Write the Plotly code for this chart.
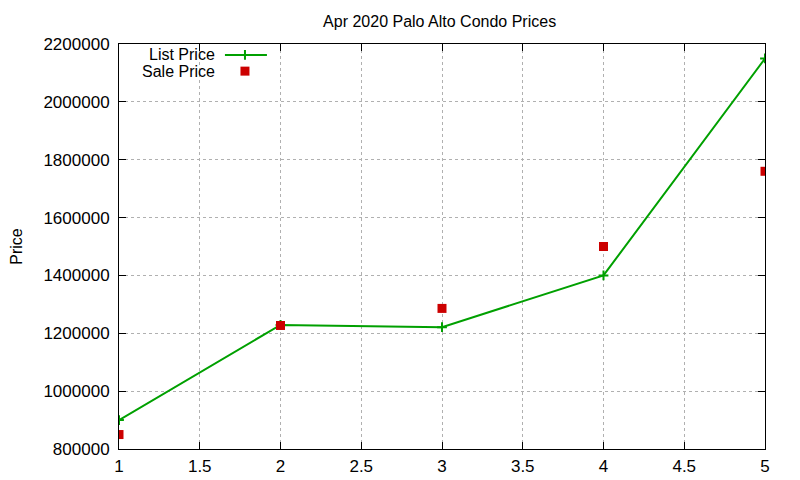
import plotly.graph_objects as go

# data
months = [1, 2, 3, 4, 5]
list_price = [900000, 1229000, 1221000, 1400000, 2150000]
sale_price = [850000, 1227000, 1286000, 1500000, 1760000]

x_ticks = [1, 1.5, 2, 2.5, 3, 3.5, 4, 4.5, 5]
y_ticks = [800000, 1000000, 1200000, 1400000, 1600000, 1800000, 2000000, 2200000]

green = "#00a000"
red = "#cc0000"
font = "Liberation Sans, Arial, sans-serif"

fig = go.Figure()

fig.add_trace(go.Scatter(
    x=months, y=list_price, mode="lines+markers", name="List Price",
    line=dict(color=green, width=2),
    marker=dict(symbol="cross-thin", size=7, line=dict(color=green, width=2)),
))
fig.add_trace(go.Scatter(
    x=months, y=sale_price, mode="markers", name="Sale Price",
    marker=dict(symbol="square", size=9, color=red),
))

# gnuplot-style key: text on the left, sample on the right
fig.add_trace(go.Scatter(
    x=[0.164, 0.195, 0.229], y=[0.973, 0.973, 0.973], mode="lines",
    line=dict(color=green, width=2), xaxis="x2", yaxis="y2", hoverinfo="skip",
))
fig.add_trace(go.Scatter(
    x=[0.195], y=[0.973], mode="markers", xaxis="x2", yaxis="y2",
    marker=dict(symbol="cross-thin", size=7, line=dict(color=green, width=2)),
    hoverinfo="skip",
))
fig.add_trace(go.Scatter(
    x=[0.195], y=[0.933], mode="markers", xaxis="x2", yaxis="y2",
    marker=dict(symbol="square", size=9, color=red), hoverinfo="skip",
))
for txt, yy in [("List Price", 0.973), ("Sale Price", 0.933)]:
    fig.add_annotation(
        x=0.152, y=yy, xref="x2", yref="y2", text=txt, showarrow=False,
        xanchor="right", yanchor="middle", font=dict(size=16, color="black"),
    )

axis_style = dict(
    showline=True, linecolor="black", linewidth=1, mirror="ticks",
    ticks="inside", ticklen=7, tickcolor="black",
    showgrid=True, gridcolor="#b0b0b0", griddash="dot", gridwidth=1,
    zeroline=False, tickfont=dict(size=17, color="black"),
)

# page body has an 8px margin, so the figure is shrunk by that much
fig.update_layout(
    width=792, height=472,
    margin=dict(l=111, r=35, t=36, b=31, autoexpand=False),
    paper_bgcolor="white", plot_bgcolor="white",
    font=dict(family=font, color="black"),
    showlegend=False,
    title=dict(text="Apr 2020 Palo Alto Condo Prices", x=0.545, xanchor="center",
               y=0.971, yanchor="middle", font=dict(size=16)),
    xaxis=dict(range=[1, 5], tickvals=x_ticks, ticklabelstandoff=2, **axis_style),
    yaxis=dict(range=[800000, 2200000], tickvals=y_ticks, tickformat="d",
               ticklabelstandoff=5,
               title=dict(text="Price", standoff=22, font=dict(size=16)), **axis_style),
    xaxis2=dict(overlaying="x", range=[0, 1], visible=False, fixedrange=True),
    yaxis2=dict(overlaying="y", range=[0, 1], visible=False, fixedrange=True),
)

fig.write_html("out.html")
